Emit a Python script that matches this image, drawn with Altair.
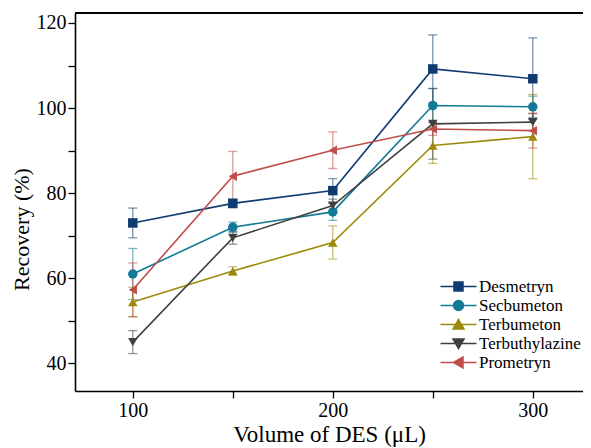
import altair as alt
import pandas as pd

volumes = [100, 150, 200, 250, 300]
compounds = ["Desmetryn", "Secbumeton", "Terbumeton", "Terbuthylazine", "Prometryn"]
colors = ["#0f3c70", "#127a96", "#9c8a0b", "#404040", "#bf4d4a"]
shapes = ["square", "circle", "triangle-up", "triangle-down", "triangle-left"]

desmetryn = [73.0, 77.6, 80.6, 109.2, 106.9]
desmetryn_err = [3.5, 1.0, 2.8, 8.0, 9.6]
secbumeton = [61.0, 72.0, 75.6, 100.6, 100.3]
secbumeton_err = [6.0, 1.2, 2.0, 4.0, 2.5]
terbumeton = [54.4, 61.7, 68.4, 91.2, 93.3]
terbumeton_err = [3.5, 1.0, 3.9, 4.2, 9.9]
terbuthylazine = [45.0, 69.5, 77.1, 96.3, 96.7]
terbuthylazine_err = [2.7, 1.5, 1.5, 8.3, 2.0]
prometryn = [57.3, 84.0, 90.1, 95.1, 94.7]
prometryn_err = [6.3, 5.8, 4.3, 1.5, 4.1]

series = [desmetryn, secbumeton, terbumeton, terbuthylazine, prometryn]
errors = [desmetryn_err, secbumeton_err, terbumeton_err, terbuthylazine_err, prometryn_err]

rows = []
for name, vals, errs in zip(compounds, series, errors):
    for v, r, e in zip(volumes, vals, errs):
        rows.append({"Volume": v, "Compound": name, "Recovery": r,
                     "lo": r - e, "hi": r + e})
df = pd.DataFrame(rows)

# legend symbols: a line segment through the marker
line_seg = "M-3.6,0H3.6"
legend_paths = [
    line_seg + "M-0.9,-0.9H0.9V0.9H-0.9Z",
    line_seg + "M-1,0A1,1,0,1,1,1,0A1,1,0,1,1,-1,0Z",
    line_seg + "M0,-1L1.1,0.9H-1.1Z",
    line_seg + "M0,1L1.1,-0.9H-1.1Z",
    line_seg + "M-1,0L0.9,-1.1V1.1Z",
]

W, H = 508, 378
FONT = "Liberation Serif"

x_enc = alt.X("Volume:Q",
              scale=alt.Scale(domain=[71.1, 325.1], nice=False, zero=False),
              axis=alt.Axis(values=[100, 150, 200, 250, 300],
                            labelExpr="datum.value % 100 == 0 ? datum.label : ''",
                            title="Volume of DES (\u03bcL)", grid=False,
                            tickSize=7, labelPadding=2, titlePadding=3,
                            titleFontSize=23))
y_enc = alt.Y("Recovery:Q",
              scale=alt.Scale(domain=[33.5, 122.35], nice=False, zero=False),
              axis=alt.Axis(values=[40, 50, 60, 70, 80, 90, 100, 110, 120],
                            labelExpr="datum.value % 20 == 0 ? datum.label : ''",
                            title="Recovery (%)", grid=False,
                            tickSize=7, labelPadding=2, titlePadding=3,
                            titleFontSize=22, titleY=216))

color_scale = alt.Scale(domain=compounds, range=colors)
color_enc = alt.Color("Compound:N", scale=color_scale, legend=None)

base = alt.Chart(df)

err_rule = base.mark_rule(strokeWidth=1.3, opacity=0.55).encode(
    x=x_enc, y=alt.Y("lo:Q"), y2="hi:Q", color=color_enc)
cap_lo = base.mark_tick(orient="horizontal", size=9, thickness=1.3, opacity=0.55).encode(
    x=x_enc, y=alt.Y("lo:Q"), color=color_enc)
cap_hi = base.mark_tick(orient="horizontal", size=9, thickness=1.3, opacity=0.55).encode(
    x=x_enc, y=alt.Y("hi:Q"), color=color_enc)

lines = base.mark_line(strokeWidth=1.6).encode(
    x=x_enc, y=y_enc, color=color_enc, detail="Compound:N")

points = base.mark_point(filled=True, size=90, opacity=1).encode(
    x=x_enc, y=y_enc, color=color_enc,
    shape=alt.Shape("Compound:N", scale=alt.Scale(domain=compounds, range=shapes),
                    legend=None))

leg = alt.Legend(title=None, orient="none", legendX=375, legendY=265,
                 symbolSize=100, symbolStrokeWidth=1.5, labelOffset=12,
                 labelFont=FONT, labelFontSize=17, labelColor="black",
                 labelFontWeight="normal", rowPadding=1, padding=0)
legend_layer = base.transform_filter("datum.Volume < 0").mark_point(
    filled=True, opacity=1, strokeWidth=1.5).encode(
    x=x_enc, y=y_enc,
    fill=alt.Fill("Compound:N", scale=alt.Scale(domain=compounds, range=colors), legend=leg),
    stroke=alt.Stroke("Compound:N", scale=alt.Scale(domain=compounds, range=colors), legend=leg),
    shape=alt.Shape("Compound:N", scale=alt.Scale(domain=compounds, range=legend_paths), legend=leg),
)

top_border = alt.Chart(pd.DataFrame({"a": [0]})).mark_rule(
    color="black", strokeWidth=2).encode(
    x=alt.value(0), x2=alt.value(W), y=alt.value(0))

chart = alt.layer(err_rule, cap_lo, cap_hi, lines, points, legend_layer, top_border).resolve_scale(
    shape="independent", fill="independent", stroke="independent"
).properties(
    width=W, height=H,
    autosize=alt.AutoSizeParams(type="none"),
    padding={"left": 67, "top": 5, "right": 0, "bottom": 57},
).configure_view(stroke=None).configure_axis(
    labelFont=FONT, titleFont=FONT, labelFontSize=20,
    labelColor="black", titleColor="black", titleFontWeight="normal",
    domainColor="black", domainWidth=1.6, tickColor="black", tickWidth=1.3,
).configure_legend(
    labelFont=FONT, labelFontSize=17, labelColor="black",
)

chart.save("out.html", embed_options={"renderer": "svg", "actions": False})
